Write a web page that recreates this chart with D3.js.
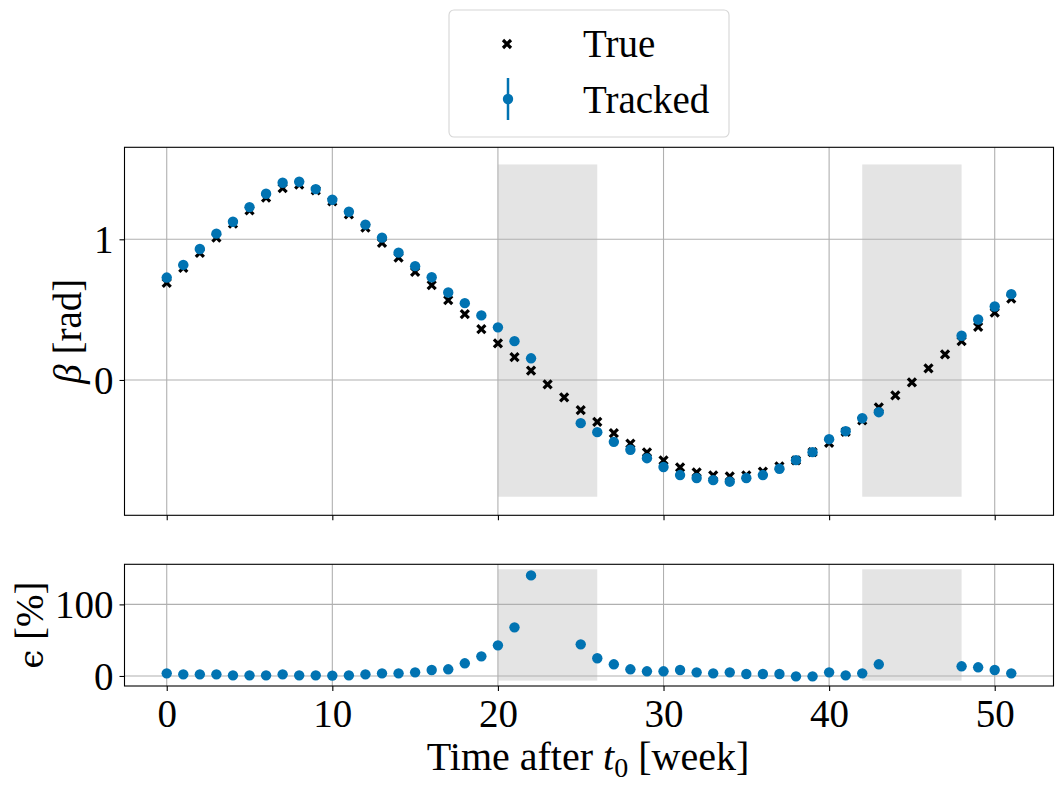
<!DOCTYPE html>
<html><head><meta charset="utf-8">
<script src="https://cdn.jsdelivr.net/npm/d3@7"></script>
<style>body{margin:0;background:#fff}svg{display:block}text{font-family:"Liberation Serif","DejaVu Serif",serif;fill:#000}</style>
</head><body><svg id="c" width="1063" height="790"></svg>
<script>
const weeks = d3.range(0, 52);
const trueBeta = [0.690,0.797,0.903,1.012,1.111,1.206,1.296,1.364,1.388,1.348,1.270,1.177,1.083,0.974,0.870,0.768,0.674,0.567,0.468,0.362,0.260,0.162,0.066,-0.031,-0.123,-0.215,-0.298,-0.378,-0.452,-0.515,-0.572,-0.622,-0.657,-0.678,-0.686,-0.678,-0.652,-0.615,-0.572,-0.513,-0.447,-0.369,-0.288,-0.194,-0.109,-0.017,0.083,0.182,0.277,0.378,0.478,0.579];
const trackedBeta = [0.728,0.818,0.931,1.040,1.125,1.229,1.324,1.402,1.409,1.357,1.281,1.196,1.104,1.012,0.905,0.809,0.730,0.622,0.546,0.459,0.374,0.276,0.154,null,null,-0.307,-0.371,-0.440,-0.496,-0.556,-0.619,-0.676,-0.697,-0.712,-0.723,-0.697,-0.676,-0.631,-0.570,-0.513,-0.421,-0.364,-0.272,-0.229,null,null,null,null,0.314,0.430,0.522,0.610];
const errorPct = [3.7,2.3,2.3,2.3,0.9,0.9,0.9,2.3,0.9,0.9,0.5,0.9,2.3,3.7,3.7,5.1,8.4,9.3,17.7,27.4,42.8,67.9,140.5,null,null,44.2,24.7,16.3,9.3,6.5,6.5,8.4,5.1,3.7,5.1,2.8,2.8,2.8,-0.5,-0.5,5.1,0.9,3.7,16.3,null,null,null,null,13.5,12.1,8.4,3.7];
const gaps = [[20,26],[42,48]];
const xTicks = [0,10,20,30,40,50];
const betaTicks = [0,1];
const errTicks = [0,100];
const legendLabels = ["True","Tracked"];

const BLUE = "#0173b2", SHADE = "#e4e4e4", GRID = "#b0b0b0";
const svg = d3.select("#c");
const FS = 39;

const x = d3.scaleLinear().domain([-2.55, 53.55]).range([124.5, 1053.5]);
const yT = d3.scaleLinear().domain([-0.962, 1.654]).range([515.3, 147.3]);
const yB = d3.scaleLinear().domain([-14, 156]).range([686, 564.3]);

function panel(y, ticks, shadeLo, shadeHi, showXLabels) {
  const [y0, y1] = y.range();
  const g = svg.append("g");
  g.selectAll("rect.sh").data(gaps).join("rect")
    .attr("x", d => x(d[0])).attr("width", d => x(d[1]) - x(d[0]))
    .attr("y", y(shadeHi)).attr("height", y(shadeLo) - y(shadeHi))
    .attr("fill", SHADE);
  g.selectAll("line.gx").data(xTicks).join("line")
    .attr("x1", d => x(d)).attr("x2", d => x(d)).attr("y1", y1).attr("y2", y0)
    .attr("stroke", GRID).attr("stroke-width", 1.1);
  g.selectAll("line.gy").data(ticks).join("line")
    .attr("y1", d => y(d)).attr("y2", d => y(d)).attr("x1", x.range()[0]).attr("x2", x.range()[1])
    .attr("stroke", GRID).attr("stroke-width", 1.1);
  const ax = d3.axisBottom(x).tickValues(xTicks).tickSize(5).tickPadding(8)
    .tickFormat(showXLabels ? d3.format("d") : () => "");
  const axG = svg.append("g").attr("transform", `translate(0,${y0})`).call(ax);
  const ay = d3.axisLeft(y).tickValues(ticks).tickSize(5).tickPadding(6).tickFormat(d3.format("d"));
  const ayG = svg.append("g").attr("transform", `translate(${x.range()[0]},0)`).call(ay);
  [axG, ayG].forEach(a => {
    a.select(".domain").remove();
    a.selectAll("line").attr("stroke", "#000").attr("stroke-width", 1.1);
    a.selectAll("text").attr("font-size", FS).attr("font-family", '"Liberation Serif",serif').attr("fill", "#000");
  });
  ayG.selectAll("text").attr("dy", "0.34em");
  svg.append("rect").attr("x", x.range()[0]).attr("y", y1)
    .attr("width", x.range()[1] - x.range()[0]).attr("height", y0 - y1)
    .attr("fill", "none").attr("stroke", "#000").attr("stroke-width", 1.1);
  return g;
}

const gT = panel(yT, betaTicks, -0.83, 1.532, false);
const gB = panel(yB, errTicks, -6.5, 149, true);

function cross(sel, cx, cy, s) {
  sel.append("path").attr("d", `M${cx - s},${cy - s}L${cx + s},${cy + s}M${cx - s},${cy + s}L${cx + s},${cy - s}`)
    .attr("stroke", "#000").attr("stroke-width", 3.2).attr("fill", "none");
}
const crossG = gT.append("g");
weeks.forEach((w, i) => cross(crossG, x(w), yT(trueBeta[i]), 4.0));

gT.append("g").selectAll("circle").data(weeks.filter((w, i) => trackedBeta[i] !== null)).join("circle")
  .attr("cx", d => x(d)).attr("cy", d => yT(trackedBeta[d])).attr("r", 5.2).attr("fill", BLUE);

gB.append("g").selectAll("circle").data(weeks.filter((w, i) => errorPct[i] !== null)).join("circle")
  .attr("cx", d => x(d)).attr("cy", d => yB(errorPct[d])).attr("r", 5.2).attr("fill", BLUE);

svg.append("text").attr("transform", `translate(81,${(147.3 + 515.3) / 2}) rotate(-90)`)
  .attr("text-anchor", "middle").attr("font-size", FS)
  .html('<tspan font-style="italic">β</tspan> [rad]');
svg.append("text").attr("transform", `translate(43,${(564.3 + 686) / 2}) rotate(-90)`)
  .attr("text-anchor", "middle").attr("font-size", FS)
  .html('<tspan font-family="DejaVu Serif" font-size="34">ϵ</tspan> [%]');
svg.append("text").attr("x", 588).attr("y", 770).attr("text-anchor", "middle").attr("font-size", 40)
  .html('Time after <tspan font-style="italic">t</tspan><tspan font-size="28" dy="7">0</tspan><tspan dy="-7"> [week]</tspan>');

const lg = svg.append("g");
lg.append("rect").attr("x", 449).attr("y", 10).attr("width", 280).attr("height", 127).attr("rx", 5)
  .attr("fill", "#fff").attr("stroke", "#d6d6d6").attr("stroke-width", 1.1);
cross(lg, 507, 44, 4.0);
lg.append("line").attr("x1", 508).attr("x2", 508).attr("y1", 78).attr("y2", 120).attr("stroke", BLUE).attr("stroke-width", 2.5);
lg.append("circle").attr("cx", 508).attr("cy", 99).attr("r", 5.2).attr("fill", BLUE);
lg.selectAll("text.l").data(legendLabels).join("text")
  .attr("x", 583).attr("y", (d, i) => 57 + i * 56).attr("font-size", FS).text(d => d);
</script></body></html>
